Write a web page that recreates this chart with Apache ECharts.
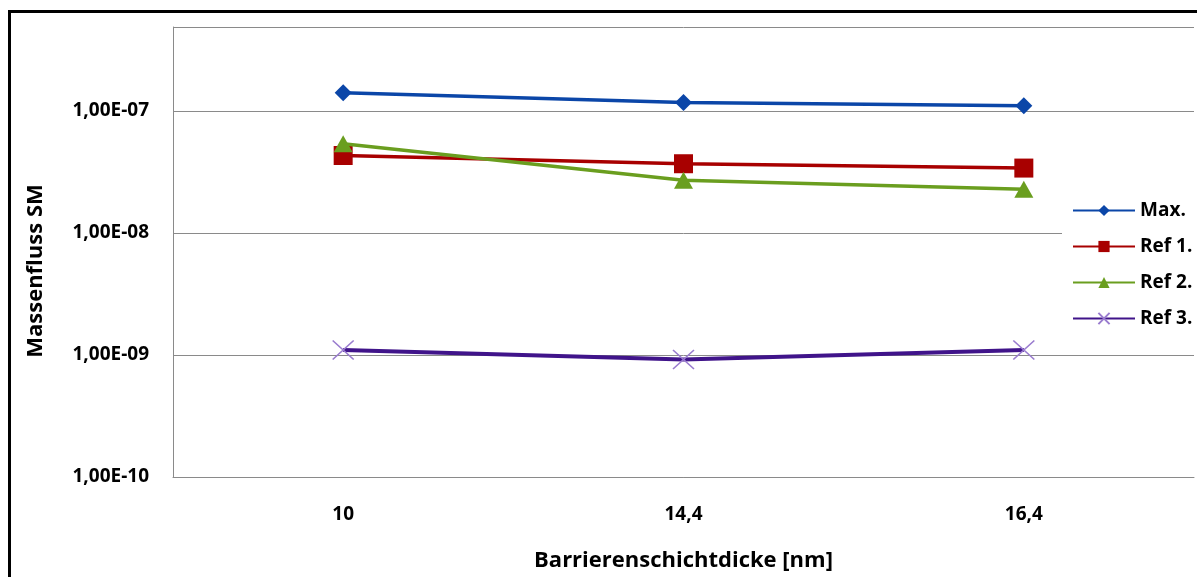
<!DOCTYPE html>
<html>
<head>
<meta charset="utf-8">
<script src="https://cdn.jsdelivr.net/npm/echarts@6/dist/echarts.min.js"></script>
<style>
  html, body { margin: 0; padding: 0; background: #fff; }
  #chart { width: 1197px; height: 577px; }
</style>
</head>
<body>
<div id="chart"></div>
<script>
// Barrier layer thickness [nm]
const categories = ['10', '14,4', '16,4'];

// Mass flux per sample series
const seriesNames = ['Max.', 'Ref 1.', 'Ref 2.', 'Ref 3.'];
const maxValues  = [1.41e-7, 1.17e-7, 1.10e-7];
const ref1Values = [4.31e-8, 3.69e-8, 3.40e-8];
const ref2Values = [5.37e-8, 2.70e-8, 2.28e-8];
const ref3Values = [1.10e-9, 9.2e-10, 1.10e-9];

// Labelled decades on the logarithmic axis
const yTicks = [1e-10, 1e-9, 1e-8, 1e-7];
const yMin = 1e-10;
const yMax = 4.87e-7;

const FONT = '"Open Sans", Lato, sans-serif';
const GRID_GREY = '#8a8a8a';

// German-style scientific notation: 1,00E-07
function sciLabel(v) {
  const isTick = yTicks.some(t => Math.abs(Math.log10(v) - Math.log10(t)) < 1e-6);
  if (!isTick) return '';
  const parts = v.toExponential(2).split('e');
  const mant = parts[0].replace('.', ',');
  const exp = parseInt(parts[1], 10);
  const sign = exp < 0 ? '-' : '+';
  return mant + 'E' + sign + String(Math.abs(exp)).padStart(2, '0');
}

const chart = echarts.init(document.getElementById('chart'), null, { renderer: 'canvas' });

const option = {
  backgroundColor: '#ffffff',
  animation: false,
  textStyle: { fontFamily: FONT },
  graphic: [
    {
      type: 'rect',
      z: 100,
      silent: true,
      shape: { x: 9.5, y: 11.5, width: 1400, height: 800 },
      style: { fill: 'none', stroke: '#000', lineWidth: 3 }
    }
  ],
  grid: {
    left: 173,
    top: 27,
    right: 3,
    bottom: 96
  },
  legend: {
    data: seriesNames,
    orient: 'vertical',
    left: 1062,
    top: 193,
    padding: [8, 5, 8, 10],
    backgroundColor: '#ffffff',
    itemWidth: 62,
    itemHeight: 14,
    itemGap: 17,
    z: 10,
    textStyle: { fontFamily: FONT, fontWeight: 'bold', fontSize: 19, color: '#000' }
  },
  xAxis: {
    type: 'category',
    data: categories,
    boundaryGap: true,
    name: 'Barrierenschichtdicke [nm]',
    nameLocation: 'middle',
    nameGap: 73,
    nameTextStyle: { fontFamily: FONT, fontWeight: 'bold', fontSize: 22, color: '#000' },
    axisLine: { show: true, lineStyle: { color: GRID_GREY, width: 1 } },
    axisTick: { show: false },
    axisLabel: { margin: 28, fontFamily: FONT, fontWeight: 'bold', fontSize: 19, color: '#000' },
    splitLine: { show: false }
  },
  yAxis: {
    type: 'log',
    logBase: 10,
    min: yMin,
    max: yMax,
    name: 'Massenfluss SM',
    nameLocation: 'middle',
    nameGap: 126,
    nameTextStyle: { fontFamily: FONT, fontWeight: 'bold', fontSize: 22, color: '#000', padding: [0, 38, 0, 0] },
    axisLine: { show: true, lineStyle: { color: GRID_GREY, width: 1 } },
    axisTick: { show: false },
    axisLabel: { margin: 24, fontFamily: FONT, fontWeight: 'bold', fontSize: 19, color: '#000', formatter: sciLabel },
    splitLine: { show: true, lineStyle: { color: GRID_GREY, width: 1 } },
    minorSplitLine: { show: false }
  },
  series: [
    {
      name: seriesNames[0],
      type: 'line',
      data: maxValues,
      symbol: 'diamond',
      symbolSize: 17,
      lineStyle: { color: '#0b46a8', width: 3.5 },
      itemStyle: { color: '#0b46a8' },
      z: 4
    },
    {
      name: seriesNames[1],
      type: 'line',
      data: ref1Values,
      symbol: 'rect',
      symbolSize: 19,
      lineStyle: { color: '#a80000', width: 3.5 },
      itemStyle: { color: '#a80000' },
      z: 3
    },
    {
      name: seriesNames[2],
      type: 'line',
      data: ref2Values,
      symbol: 'triangle',
      symbolSize: [19, 17],
      lineStyle: { color: '#6a9e1f', width: 3.5 },
      itemStyle: { color: '#6a9e1f' },
      z: 5
    },
    {
      name: seriesNames[3],
      type: 'line',
      data: ref3Values,
      symbol: 'path://M0,0L10,10M10,0L0,10',
      symbolSize: [21, 19],
      lineStyle: { color: '#40148a', width: 4 },
      itemStyle: { color: 'transparent', borderColor: '#9a7ccf', borderWidth: 1.5 },
      z: 3
    }
  ]
};

chart.setOption(option);
</script>
</body>
</html>
